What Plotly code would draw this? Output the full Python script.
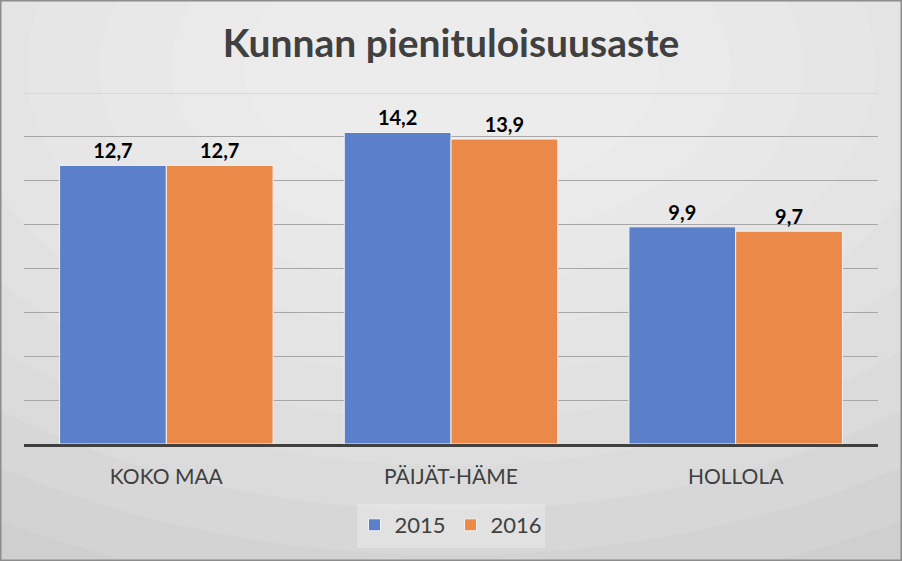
import plotly.graph_objects as go

categories = ["KOKO MAA", "PÄIJÄT-HÄME", "HOLLOLA"]
series_names = ["2015", "2016"]
values_2015 = [12.7, 14.2, 9.9]
values_2016 = [12.7, 13.9, 9.7]
title_text = "Kunnan pienituloisuusaste"

W, H = 902, 561
ML, MR, MT, MB = 24, 24, 93, 117
PW, PH = W - ML - MR, H - MT - MB

def px_x(x):
    return (x - ML) / PW

def px_y(y):
    return (H - MB - y) / PH

FONT = "Lato"
blue = "#5B7FC8"
orange = "#EB8A48"

fig = go.Figure()
for name, vals, col in [(series_names[0], values_2015, blue), (series_names[1], values_2016, orange)]:
    fig.add_trace(go.Bar(
        name=name, x=categories, y=vals,
        marker=dict(color=col, line=dict(color="#F2F2F2", width=1)),
        texttemplate="<b>%{y:.1f}</b>", textposition="outside",
        textfont=dict(family=FONT, size=20, color="#000000"),
        cliponaxis=False,
    ))

shapes = []
# background gradient approximation
steps = 10
for i in range(steps):
    f = i / steps
    rx = 0.95 - f * 0.8
    ry = 0.95 - f * 0.8
    cx, cy = 0.5, 0.12
    x0 = px_x(W * (cx - rx)); x1 = px_x(W * (cx + rx))
    y0 = px_y(H * (cy - ry)); y1 = px_y(H * (cy + ry))
    shapes.append(dict(type="circle", xref="paper", yref="paper",
                       x0=x0, x1=x1, y0=y1, y1=y0,
                       fillcolor="rgba(255,255,255,0.10)", line=dict(width=0), layer="below"))
# outer border
shapes.append(dict(type="rect", xref="paper", yref="paper",
                   x0=px_x(0.5), x1=px_x(W - 0.5), y0=px_y(H - 0.5), y1=px_y(0.5),
                   line=dict(color="#8C8C8C", width=2), fillcolor="rgba(0,0,0,0)", layer="below"))
# legend background
shapes.append(dict(type="rect", xref="paper", yref="paper",
                   x0=px_x(357), x1=px_x(545), y0=px_y(548), y1=px_y(504),
                   line=dict(width=0), fillcolor="rgba(255,255,255,0.25)", layer="below"))
# top gridline (range maximum)
shapes.append(dict(type="line", xref="paper", yref="y", x0=0, x1=1, y0=16, y1=16,
                   line=dict(color="#C8C8C8", width=1), layer="below"))

fig.update_layout(
    width=W, height=H,
    margin=dict(l=ML, r=MR, t=MT, b=MB),
    paper_bgcolor="#CFCFCF",
    plot_bgcolor="rgba(0,0,0,0)",
    separators=", ",
    barmode="group",
    bargap=0.25,
    bargroupgap=0,
    title=dict(text="<b>" + title_text + "</b>", x=0.5, xanchor="center",
               y=1 - 43 / H, yanchor="middle",
               font=dict(family=FONT, size=39, color="#404040")),
    font=dict(family=FONT, color="#404040"),
    showlegend=True,
    legend=dict(orientation="h", x=0.5, xanchor="center", y=px_y(525), yanchor="middle",
                font=dict(family=FONT, size=22, color="#404040"),
                bgcolor="rgba(0,0,0,0)", traceorder="normal"),
    shapes=shapes,
    xaxis=dict(showgrid=False, showline=True, linecolor="#404040", linewidth=3,
               ticks="outside", ticklen=12, tickcolor="rgba(0,0,0,0)",
               tickfont=dict(family=FONT, size=21, color="#404040"), fixedrange=True),
    yaxis=dict(range=[0, 16], dtick=2, showgrid=True, gridcolor="#A6A6A6", gridwidth=1,
               showticklabels=False, zeroline=False, showline=False, fixedrange=True),
)

fig.write_html("out.html", config={"displayModeBar": False},
               post_script="document.body.style.margin='0';document.body.style.overflow='hidden';")
